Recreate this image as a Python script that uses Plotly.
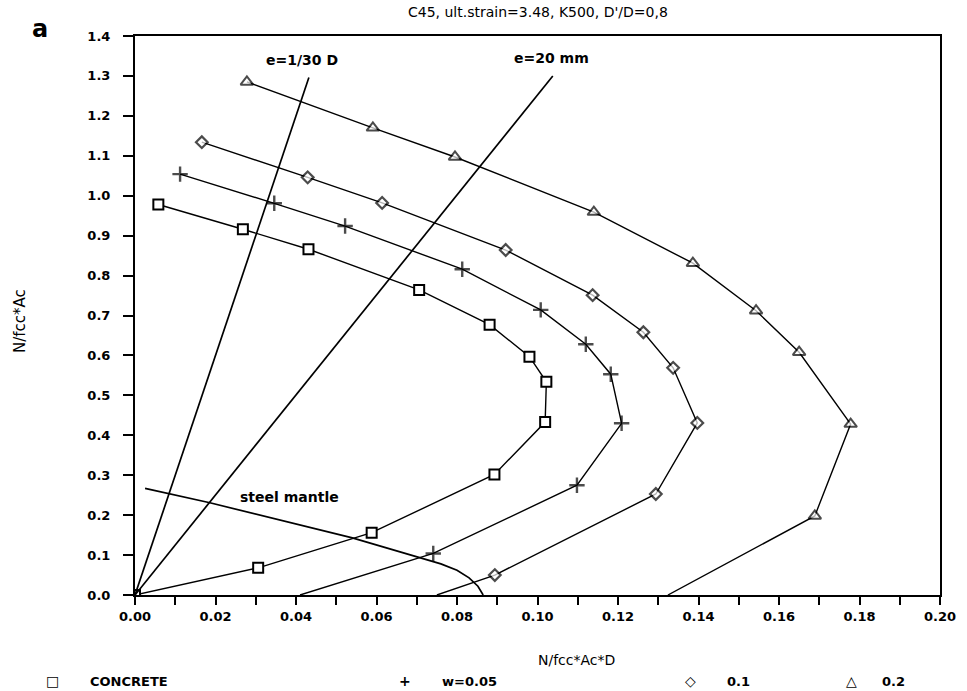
import plotly.graph_objects as go

# ---- data ----
conc_x = [0.0, 0.0306, 0.0588, 0.0893, 0.1019, 0.1022, 0.0980, 0.0881, 0.0706, 0.0431, 0.0268, 0.0058]
conc_y = [0.0, 0.068, 0.156, 0.302, 0.433, 0.534, 0.597, 0.677, 0.764, 0.866, 0.916, 0.978]

w05_x = [0.0410, 0.0741, 0.1098, 0.1209, 0.1182, 0.1120, 0.1008, 0.0813, 0.0522, 0.0346, 0.0112]
w05_y = [0.0, 0.104, 0.275, 0.430, 0.553, 0.628, 0.714, 0.816, 0.924, 0.981, 1.054]

w10_x = [0.0750, 0.0894, 0.1294, 0.1397, 0.1337, 0.1263, 0.1137, 0.0921, 0.0614, 0.0429, 0.0166]
w10_y = [0.0, 0.050, 0.253, 0.431, 0.569, 0.658, 0.751, 0.864, 0.982, 1.046, 1.134]

w20_x = [0.1324, 0.1689, 0.1778, 0.1650, 0.1543, 0.1386, 0.1140, 0.0795, 0.0591, 0.0278]
w20_y = [0.0, 0.198, 0.428, 0.608, 0.712, 0.831, 0.959, 1.097, 1.170, 1.285]

e30_x = [0.0, 0.0432]
e30_y = [0.0, 1.296]

e20_x = [0.0, 0.1038]
e20_y = [0.0, 1.300]

mantle_x = [0.0025, 0.0186, 0.0540, 0.0708, 0.0760, 0.0800, 0.0830, 0.0852, 0.0865]
mantle_y = [0.267, 0.231, 0.143, 0.094, 0.078, 0.062, 0.043, 0.022, 0.0]

x_ticks = [0.00, 0.02, 0.04, 0.06, 0.08, 0.10, 0.12, 0.14, 0.16, 0.18, 0.20]
x_tick_text = ["0.00", "0.02", "0.04", "0.06", "0.08", "0.10", "0.12", "0.14", "0.16", "0.18", "0.20"]
y_ticks = [0.0, 0.1, 0.2, 0.3, 0.4, 0.5, 0.6, 0.7, 0.8, 0.9, 1.0, 1.1, 1.2, 1.3, 1.4]
y_tick_text = ["0.0", "0.1", "0.2", "0.3", "0.4", "0.5", "0.6", "0.7", "0.8", "0.9", "1.0", "1.1", "1.2", "1.3", "1.4"]

legend_labels = ["CONCRETE", "w=0.05", "0.1", "0.2"]
legend_symbols = ["\u25a1", "+", "\u25c7", "\u25b3"]

FONT = "DejaVu Sans"
BLACK = "#000000"

fig = go.Figure()

def sizes(n, first, rest):
    return [first] + [rest] * (n - 1)

fig.add_trace(go.Scatter(x=conc_x, y=conc_y, mode="lines+markers",
                         line=dict(color=BLACK, width=1.4),
                         marker=dict(symbol="square", size=10, color="white",
                                     line=dict(width=2, color=BLACK))))
fig.add_trace(go.Scatter(x=w05_x, y=w05_y, mode="lines+markers",
                         line=dict(color=BLACK, width=1.4),
                         marker=dict(symbol="cross-thin-open", size=sizes(len(w05_x), 0, 11), color=BLACK,
                                     line=dict(width=2.4, color=BLACK))))
fig.add_trace(go.Scatter(x=w10_x, y=w10_y, mode="lines+markers",
                         line=dict(color=BLACK, width=1.4),
                         marker=dict(symbol="diamond", size=sizes(len(w10_x), 0, 9), color="white",
                                     line=dict(width=2.2, color=BLACK))))
fig.add_trace(go.Scatter(x=w20_x, y=w20_y, mode="lines+markers",
                         line=dict(color=BLACK, width=1.4),
                         marker=dict(symbol="triangle-up", size=sizes(len(w20_x), 0, 11), color="white",
                                     line=dict(width=2, color=BLACK))))
fig.add_trace(go.Scatter(x=e30_x, y=e30_y, mode="lines", line=dict(color=BLACK, width=1.7)))
fig.add_trace(go.Scatter(x=e20_x, y=e20_y, mode="lines", line=dict(color=BLACK, width=1.7)))
fig.add_trace(go.Scatter(x=mantle_x, y=mantle_y, mode="lines", line=dict(color=BLACK, width=1.7)))

annotations = [
    dict(text="C45, ult.strain=3.48, K500, D'/D=0,8", xref="paper", yref="paper", x=0.5, y=1.043,
         showarrow=False, font=dict(family=FONT, size=14, color=BLACK), xanchor="center", yanchor="middle"),
    dict(text="<b>a</b>", xref="paper", yref="paper", x=-0.118, y=1.012, showarrow=False,
         font=dict(family=FONT, size=24, color=BLACK), xanchor="center", yanchor="middle"),
    dict(text="<b>e=1/30 D</b>", x=0.0415, y=1.340, showarrow=False, font=dict(family=FONT, size=14, color=BLACK),
         xanchor="center", yanchor="middle"),
    dict(text="<b>e=20 mm</b>", x=0.1034, y=1.345, showarrow=False, font=dict(family=FONT, size=14, color=BLACK),
         xanchor="center", yanchor="middle"),
    dict(text="<b>steel mantle</b>", x=0.0385, y=0.245, showarrow=False, font=dict(family=FONT, size=14, color=BLACK),
         xanchor="center", yanchor="middle"),
    dict(text="N/fcc*Ac*D", xref="paper", yref="paper", x=0.548, y=-0.116, showarrow=False,
         font=dict(family=FONT, size=14, color=BLACK), xanchor="center", yanchor="middle"),
    dict(text="N/fcc*Ac", xref="paper", yref="paper", x=-0.143, y=0.49, showarrow=False, textangle=-90,
         font=dict(family=FONT, size=15, color=BLACK), xanchor="center", yanchor="middle"),
]

legend_sym_px = [52, 405, 690, 851]
legend_txt_px = [88, 440, 725, 880]
for sym, lab, sp, tp in zip(legend_symbols, legend_labels, legend_sym_px, legend_txt_px):
    annotations.append(dict(text="<b>" + sym + "</b>", xref="paper", yref="paper", x=(sp - 135) / 805, y=-0.154,
                            showarrow=False, font=dict(family=FONT, size=14, color=BLACK),
                            xanchor="center", yanchor="middle"))
    annotations.append(dict(text="<b>" + lab + "</b>", xref="paper", yref="paper", x=(tp - 135) / 805, y=-0.154,
                            showarrow=False, font=dict(family=FONT, size=13, color=BLACK),
                            xanchor="left", yanchor="middle"))

fig.update_layout(
    width=967, height=691,
    margin=dict(l=135, r=27, t=36, b=96),
    paper_bgcolor="white", plot_bgcolor="white",
    showlegend=False,
    annotations=annotations,
    font=dict(family=FONT, color=BLACK),
)
fig.update_xaxes(range=[0, 0.2], tickvals=x_ticks, ticktext=x_tick_text, ticks="outside", ticklen=8,
                 tickwidth=1.5, tickcolor=BLACK, showgrid=False, zeroline=False,
                 showline=True, linecolor=BLACK, linewidth=2, mirror=True,
                 tickfont=dict(family=FONT, size=13, color=BLACK, weight="bold"),
                 minor=dict(dtick=0.01, tick0=0, ticks="outside", ticklen=8, tickwidth=1.5, tickcolor=BLACK))
fig.update_yaxes(range=[0, 1.4], tickvals=y_ticks, ticktext=y_tick_text, ticks="outside", ticklen=10,
                 tickwidth=1.5, tickcolor=BLACK, showgrid=False, zeroline=False,
                 showline=True, linecolor=BLACK, linewidth=2, mirror=True, ticklabelstandoff=10,
                 tickfont=dict(family=FONT, size=13, color=BLACK, weight="bold"))

fig.write_html("out.html")
